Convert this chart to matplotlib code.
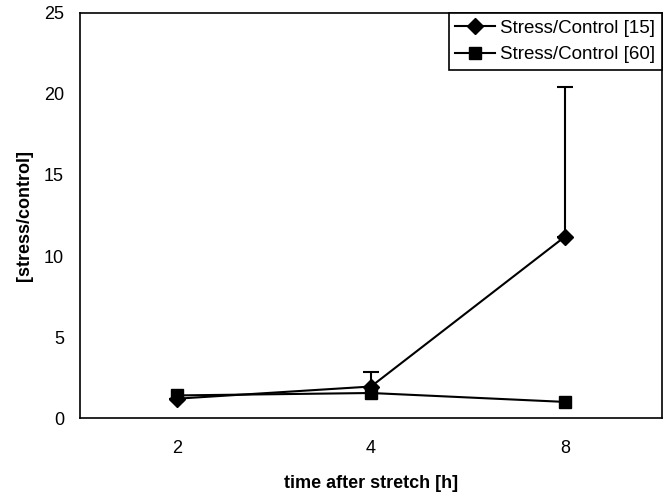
import matplotlib
matplotlib.use('Agg')
import matplotlib.pyplot as plt
import numpy as np

plt.rcParams['font.family'] = ['Liberation Sans', 'DejaVu Sans']

# data
times = ['2', '4', '8']
ratio_15 = [1.2, 1.95, 11.2]
err_15 = [0.0, 0.9, 9.2]
ratio_60 = [1.4, 1.55, 1.0]

x = np.arange(len(times))

fig = plt.figure(figsize=(6.69, 4.96), dpi=100)
ax = fig.add_axes([0.1196, 0.157, 0.87, 0.817])

# upper error bars only
ax.errorbar(x, ratio_15, yerr=[np.zeros(len(err_15)), err_15], fmt='none',
            ecolor='black', elinewidth=1.5, capsize=6, capthick=1.5)
ax.plot(x, ratio_15, color='black', marker='D', markersize=8, linewidth=1.5,
        label='Stress/Control [15]')
ax.plot(x, ratio_60, color='black', marker='s', markersize=9, linewidth=1.5,
        label='Stress/Control [60]')

ax.set_xlim(-0.5, 2.5)
ax.set_ylim(0, 25)
ax.set_xticks(x)
ax.set_xticklabels(times)
ax.set_yticks(np.arange(0, 26, 5))
ax.tick_params(axis='both', length=0, labelsize=13)
ax.tick_params(axis='x', pad=16)
ax.tick_params(axis='y', pad=11.5)
for s in ax.spines.values():
    s.set_linewidth(1.2)

ax.set_xlabel('time after stretch [h]', fontsize=13, fontweight='bold', labelpad=13)
ax.set_ylabel('[stress/control]', fontsize=13, fontweight='bold', labelpad=8)

leg = ax.legend(loc='upper right', fontsize=13.5, fancybox=False, framealpha=1,
                edgecolor='black', borderaxespad=0, handlelength=2.1,
                borderpad=0.35, labelspacing=0.5, handletextpad=0.3)
leg.get_frame().set_linewidth(1.2)

plt.savefig('out.png', dpi=100)
